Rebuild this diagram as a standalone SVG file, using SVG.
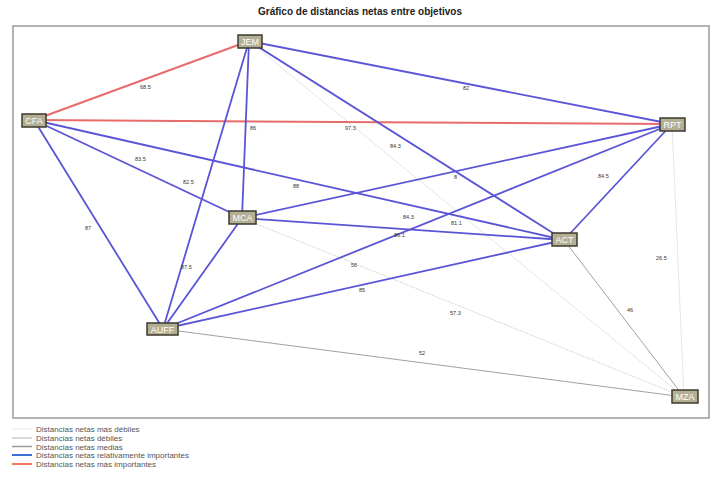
<svg xmlns="http://www.w3.org/2000/svg" width="714" height="483" viewBox="0 0 714 483">
<style>
.title{font-family:"Liberation Sans",Arial,sans-serif;font-size:10px;font-weight:bold;fill:#222}
.lbl{font-family:"Liberation Sans",Arial,sans-serif;font-size:5.5px;fill:#333}
.leg{font-family:"Liberation Sans",Arial,sans-serif;font-size:8px;fill:#555}
.nb{fill:#b3ae94;stroke:#3b3b2e;stroke-width:1.5}
.nt{font-family:"Liberation Sans",Arial,sans-serif;font-size:9px;fill:#fff;text-anchor:middle}
.red{stroke:#e86b6b;stroke-width:2;fill:none}
.blue{stroke:#5a55d6;stroke-width:1.8;fill:none}
.mid{stroke:#a0a0a0;stroke-width:1;fill:none}
.weak{stroke:#d0d0d0;stroke-width:1;fill:none;stroke-dasharray:1.5 1}
.vweak{stroke:#e6e6e6;stroke-width:1;fill:none}
</style>
<rect width="714" height="483" fill="#fff"/>
<text class="title" x="360" y="15" text-anchor="middle">Gráfico de distancias netas entre objetivos</text>
<rect x="13" y="26" width="696" height="392" fill="none" stroke="#999" stroke-width="1.5"/>
<g id="connectors">
<line class="vweak" x1="672" y1="124" x2="684" y2="397"/>
<line class="vweak" x1="249" y1="41" x2="684" y2="397"/>
<line class="weak" x1="242" y1="218" x2="684" y2="397"/>
<line class="mid" x1="163" y1="329" x2="684" y2="397"/>
<line class="mid" x1="564" y1="240" x2="684" y2="397"/>
<line class="red" x1="34" y1="120" x2="249" y2="41"/>
<line class="red" x1="34" y1="120" x2="672" y2="124"/>
<line class="blue" x1="249" y1="41" x2="672" y2="124"/>
<line class="blue" x1="249" y1="41" x2="564" y2="240"/>
<line class="blue" x1="249" y1="41" x2="242" y2="218"/>
<line class="blue" x1="249" y1="41" x2="163" y2="329"/>
<line class="blue" x1="34" y1="120" x2="242" y2="218"/>
<line class="blue" x1="34" y1="120" x2="564" y2="240"/>
<line class="blue" x1="34" y1="120" x2="163" y2="329"/>
<line class="blue" x1="242" y1="218" x2="672" y2="124"/>
<line class="blue" x1="242" y1="218" x2="564" y2="240"/>
<line class="blue" x1="242" y1="218" x2="163" y2="329"/>
<line class="blue" x1="163" y1="329" x2="672" y2="124"/>
<line class="blue" x1="163" y1="329" x2="564" y2="240"/>
<line class="blue" x1="564" y1="240" x2="672" y2="124"/>
<text class="lbl" x="140" y="89">68.5</text>
<text class="lbl" x="250" y="130">86</text>
<text class="lbl" x="345" y="130">97.3</text>
<text class="lbl" x="390" y="148">84.3</text>
<text class="lbl" x="454" y="179">8</text>
<text class="lbl" x="463" y="90">82</text>
<text class="lbl" x="135" y="161">83.5</text>
<text class="lbl" x="183" y="184">82.5</text>
<text class="lbl" x="293" y="188">88</text>
<text class="lbl" x="85" y="230">87</text>
<text class="lbl" x="181" y="269">87.5</text>
<text class="lbl" x="403" y="219">84.3</text>
<text class="lbl" x="451" y="225">81.1</text>
<text class="lbl" x="394" y="237">86.1</text>
<text class="lbl" x="351" y="267">56</text>
<text class="lbl" x="359" y="292">85</text>
<text class="lbl" x="450" y="315">57.3</text>
<text class="lbl" x="419" y="355">52</text>
<text class="lbl" x="627" y="312">46</text>
<text class="lbl" x="598" y="178">84.5</text>
<text class="lbl" x="656" y="260">26.5</text>
</g>
<g id="node-JEM"><rect class="nb" x="238" y="35" width="24" height="13"/><text class="nt" x="250" y="45">JEM</text></g>
<g id="node-CFA"><rect class="nb" x="22" y="114" width="24" height="13"/><text class="nt" x="34" y="124">CFA</text></g>
<g id="node-RPT"><rect class="nb" x="660" y="118" width="25" height="13"/><text class="nt" x="672.5" y="128">RPT</text></g>
<g id="node-ACT"><rect class="nb" x="552" y="233" width="25" height="13"/><text class="nt" x="564.5" y="243">ACT</text></g>
<g id="node-MCA"><rect class="nb" x="229" y="211" width="27" height="13"/><text class="nt" x="242.5" y="221">MCA</text></g>
<g id="node-AUFF"><rect class="nb" x="147" y="323" width="31" height="12"/><text class="nt" x="162.5" y="332.5">AUFF</text></g>
<g id="node-MZA"><rect class="nb" x="672" y="390" width="26" height="13"/><text class="nt" x="685" y="400">MZA</text></g>
<g id="legend">
<line x1="12" y1="429" x2="32" y2="429" stroke="#eeeeee" stroke-width="1.5"/>
<text class="leg" x="36" y="432">Distancias netas más débiles</text>
<line x1="12" y1="438" x2="32" y2="438" stroke="#cccccc" stroke-width="1.5"/>
<text class="leg" x="36" y="441">Distancias netas débiles</text>
<line x1="12" y1="446.5" x2="32" y2="446.5" stroke="#999999" stroke-width="1.5"/>
<text class="leg" x="36" y="449.5">Distancias netas medias</text>
<line x1="12" y1="455" x2="32" y2="455" stroke="#3d6fd6" stroke-width="2"/>
<text class="leg" x="36" y="458">Distancias netas relativamente importantes</text>
<line x1="12" y1="464" x2="32" y2="464" stroke="#f07a5e" stroke-width="2"/>
<text class="leg" x="36" y="467">Distancias netas más importantes</text>
</g>
</svg>
